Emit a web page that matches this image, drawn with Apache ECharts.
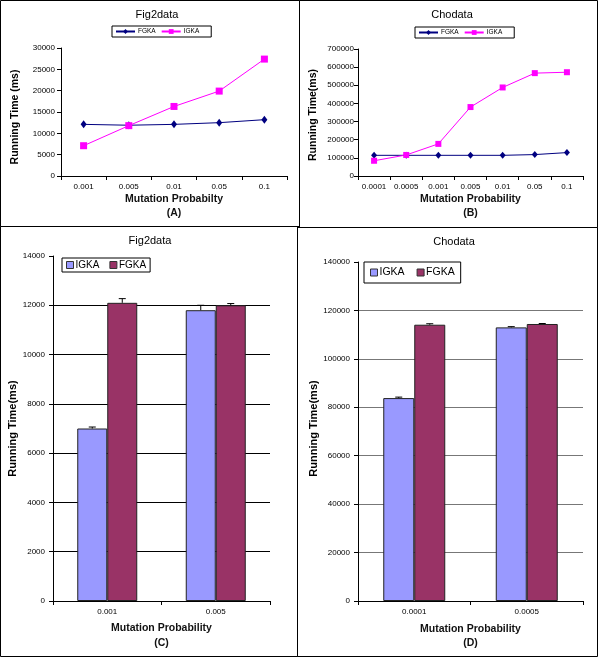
<!DOCTYPE html>
<html>
<head>
<meta charset="utf-8">
<script src="https://cdn.jsdelivr.net/npm/echarts@6/dist/echarts.min.js"></script>
<style>
html,body{margin:0;padding:0;background:#fff;}
#c{width:600px;height:658px;}
</style>
</head>
<body>
<div id="c"></div>
<script>
// ---- Data ----
const catsA = ['0.001', '0.005', '0.01', '0.05', '0.1'];
const fgkaA = [12100, 11900, 12100, 12500, 13200];
const igkaA = [7100, 11800, 16300, 19900, 27400];

const catsB = ['0.0001', '0.0005', '0.001', '0.005', '0.01', '0.05', '0.1'];
const fgkaB = [114000, 114000, 114000, 114000, 114000, 118000, 129000];
const igkaB = [84000, 116000, 177000, 380000, 488000, 567000, 572000];

const catsC = ['0.001', '0.005'];
const igkaC = [7000, 11800];
const fgkaC = [12100, 12000];
const igkaErrC = [60, 200];
const fgkaErrC = [170, 70];

const catsD = ['0.0001', '0.0005'];
const igkaD = [83800, 113000];
const fgkaD = [114100, 114400];
const igkaErrD = [400, 300];
const fgkaErrD = [400, 200];

const yTicksA = {min: 0, max: 30000, interval: 5000};
const yTicksB = {min: 0, max: 700000, interval: 100000};
const yTicksC = {min: 0, max: 14000, interval: 2000};
const yTicksD = {min: 0, max: 140000, interval: 20000};

// ---- Chart ----
const FONT = '"Liberation Sans", Arial, sans-serif';
const chart = echarts.init(document.getElementById('c'), null, {renderer: 'canvas'});

function xAxisCfg(gridIndex, cats, name, nameGap, nameSize, lh) {
  return {
    type: 'category', gridIndex, data: cats, boundaryGap: true,
    name, nameLocation: 'middle', nameGap,
    nameTextStyle: {fontFamily: FONT, fontWeight: 'bold', fontSize: nameSize, color: '#111', lineHeight: lh},
    axisLine: {lineStyle: {color: '#000', width: 1}},
    axisTick: {show: true, alignWithLabel: false, inside: false, length: 4, lineStyle: {color: '#000'}},
    axisLabel: {fontFamily: FONT, fontSize: 8, color: '#000', margin: 7},
    splitLine: {show: false}
  };
}
function yAxisCfg(gridIndex, t, name, nameGap, nameSize, namePad, margin, grid, gridColor) {
  const n = Math.round((t.max - t.min) / t.interval) + 1;
  const colors = [];
  for (let i = 0; i < n; i++) colors.push(i === n - 1 ? 'rgba(0,0,0,0)' : gridColor);
  return {
    type: 'value', gridIndex, min: t.min, max: t.max, interval: t.interval,
    name, nameLocation: 'middle', nameGap, nameRotate: 90,
    nameTextStyle: {fontFamily: FONT, fontWeight: 'bold', fontSize: nameSize, color: '#000', padding: namePad},
    axisLine: {show: true, lineStyle: {color: '#000', width: 1}},
    axisTick: {show: true, inside: false, length: 4, lineStyle: {color: '#000'}},
    axisLabel: {fontFamily: FONT, fontSize: 8, color: '#000', margin, formatter: v => String(v)},
    splitLine: {show: grid, lineStyle: {color: colors, width: 1}}
  };
}

function errSeries(name, xi, yi, vals, errs, side, barW) {
  return {
    name, type: 'custom', xAxisIndex: xi, yAxisIndex: yi, z: 10, silent: true,
    data: vals.map((v, i) => [i, v, v + errs[i]]),
    encode: {x: 0, y: [1, 2]},
    renderItem: function (params, api) {
      const base = api.coord([api.value(0), api.value(1)]);
      const top = api.coord([api.value(0), api.value(2)]);
      const x = base[0] + side * barW / 2;
      return {
        type: 'group',
        children: [
          {type: 'line', shape: {x1: x, y1: base[1], x2: x, y2: top[1]}, style: {stroke: '#000', lineWidth: 1}},
          {type: 'line', shape: {x1: x - 3.5, y1: top[1], x2: x + 3.5, y2: top[1]}, style: {stroke: '#000', lineWidth: 1}}
        ]
      };
    }
  };
}

const legendFmt = n => n.split('_')[0];

function frame(x1, y1, x2, y2) {
  return {type: 'rect', shape: {x: x1, y: y1, width: x2 - x1, height: y2 - y1},
    style: {fill: 'none', stroke: '#000', lineWidth: 1}, z: 100, silent: true};
}
function label(text, x, y, size, bold) {
  return {type: 'text', x, y, silent: true, z: 100,
    style: {text, fontFamily: FONT, fontSize: size, fontWeight: bold ? 'bold' : 'normal',
      fill: '#000', textAlign: 'center', textVerticalAlign: 'middle'}};
}

const option = {
  animation: false,
  backgroundColor: '#fff',
  grid: [
    {left: 61, top: 48, width: 226, height: 128},
    {left: 358, top: 49, width: 225, height: 127},
    {left: 53, top: 256, width: 217, height: 345},
    {left: 358, top: 262, width: 225, height: 339}
  ],
  xAxis: [
    xAxisCfg(0, catsA, 'Mutation Probabilty\n(A)', 16, 10.5, 14),
    xAxisCfg(1, catsB, 'Mutation Probability\n(B)', 16, 10.5, 14),
    xAxisCfg(2, catsC, 'Mutation Probability\n(C)', 19, 10.5, 15),
    xAxisCfg(3, catsD, 'Mutation Probability\n(D)', 21, 10.5, 14)
  ],
  yAxis: [
    yAxisCfg(0, yTicksA, 'Running Time (ms)', 40, 10.5, [0, 10, 0, 0], 6, false, '#000'),
    yAxisCfg(1, yTicksB, 'Running Time(ms)', 39, 10.5, [0, 5, 0, 0], 4, false, '#000'),
    yAxisCfg(2, yTicksC, 'Running Time(ms)', 32, 11, [0, 0, 0, 0], 8, true, '#000'),
    yAxisCfg(3, yTicksD, 'Running Time(ms)', 39, 11, [0, 0, 0, 6], 8, true, '#777')
  ],
  legend: [
    {left: 112, top: 26, orient: 'horizontal', data: ['FGKA_A', 'IGKA_A'], formatter: legendFmt,
      borderColor: '#000', borderWidth: 1, padding: [2, 12, 2, 3], itemGap: 5, itemWidth: 19, itemHeight: 6,
      textStyle: {fontFamily: FONT, fontSize: 6.5, color: '#000', padding: [0, 0, 0, -2]}},
    {left: 415, top: 27, orient: 'horizontal', data: ['FGKA_B', 'IGKA_B'], formatter: legendFmt,
      borderColor: '#000', borderWidth: 1, padding: [2, 12, 2, 3], itemGap: 5, itemWidth: 19, itemHeight: 6,
      textStyle: {fontFamily: FONT, fontSize: 6.5, color: '#000', padding: [0, 0, 0, -2]}},
    {left: 62, top: 258, orient: 'horizontal', data: ['IGKA_C', 'FGKA_C'], formatter: legendFmt,
      borderColor: '#000', borderWidth: 1, padding: [2, 4], itemGap: 10, itemWidth: 7, itemHeight: 7,
      icon: 'rect', itemStyle: {borderColor: '#333', borderWidth: 1},
      textStyle: {fontFamily: FONT, fontSize: 10, color: '#000', padding: [0, 0, 0, -3]}},
    {left: 364, top: 262, orient: 'horizontal', data: ['IGKA_D', 'FGKA_D'], formatter: legendFmt,
      borderColor: '#000', borderWidth: 1, padding: [5, 6], itemGap: 12, itemWidth: 7, itemHeight: 7,
      icon: 'rect', itemStyle: {borderColor: '#333', borderWidth: 1},
      textStyle: {fontFamily: FONT, fontSize: 10.5, color: '#000', padding: [0, 0, 0, -3]}}
  ],
  series: [
    {name: 'FGKA_A', type: 'line', xAxisIndex: 0, yAxisIndex: 0, data: fgkaA,
      symbol: 'diamond', symbolSize: [6, 8], color: '#000080', lineStyle: {width: 1, color: '#000080'}},
    {name: 'IGKA_A', type: 'line', xAxisIndex: 0, yAxisIndex: 0, data: igkaA,
      symbol: 'rect', symbolSize: 7, color: '#FF00FF', lineStyle: {width: 1, color: '#FF00FF'}},
    {name: 'FGKA_B', type: 'line', xAxisIndex: 1, yAxisIndex: 1, data: fgkaB,
      symbol: 'diamond', symbolSize: [6, 7], color: '#000080', lineStyle: {width: 1, color: '#000080'}},
    {name: 'IGKA_B', type: 'line', xAxisIndex: 1, yAxisIndex: 1, data: igkaB,
      symbol: 'rect', symbolSize: 6, color: '#FF00FF', lineStyle: {width: 1, color: '#FF00FF'}},
    {name: 'IGKA_C', type: 'bar', xAxisIndex: 2, yAxisIndex: 2, data: igkaC, barWidth: 30, barGap: '0%',
      itemStyle: {color: '#9999FF', borderColor: '#222', borderWidth: 1}},
    {name: 'FGKA_C', type: 'bar', xAxisIndex: 2, yAxisIndex: 2, data: fgkaC, barWidth: 30, barGap: '0%',
      itemStyle: {color: '#993366', borderColor: '#222', borderWidth: 1}},
    errSeries('errI_C', 2, 2, igkaC, igkaErrC, -1, 30),
    errSeries('errF_C', 2, 2, fgkaC, fgkaErrC, 1, 30),
    {name: 'IGKA_D', type: 'bar', xAxisIndex: 3, yAxisIndex: 3, data: igkaD, barWidth: 31, barGap: '0%',
      itemStyle: {color: '#9999FF', borderColor: '#222', borderWidth: 1}},
    {name: 'FGKA_D', type: 'bar', xAxisIndex: 3, yAxisIndex: 3, data: fgkaD, barWidth: 31, barGap: '0%',
      itemStyle: {color: '#993366', borderColor: '#222', borderWidth: 1}},
    errSeries('errI_D', 3, 3, igkaD, igkaErrD, -1, 31),
    errSeries('errF_D', 3, 3, fgkaD, fgkaErrD, 1, 31)
  ],
  graphic: [
    frame(0.5, 0.5, 299.5, 226.5),
    frame(299.5, 0.5, 597.5, 227.5),
    frame(0.5, 226.5, 297.5, 656.5),
    frame(297.5, 227.5, 597.5, 656.5),
    label('Fig2data', 157, 15, 11, false),
    label('Chodata', 452, 15, 11, false),
    label('Fig2data', 150, 241, 11, false),
    label('Chodata', 454, 242, 11, false)
  ]
};
chart.setOption(option);
</script>
</body>
</html>
